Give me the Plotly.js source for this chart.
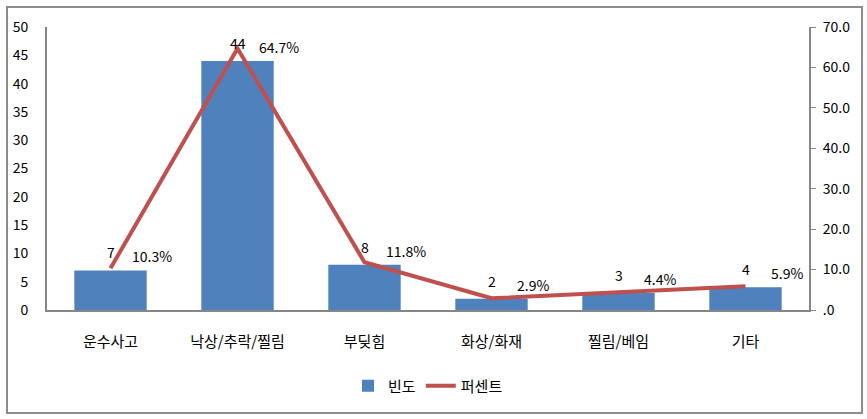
<!DOCTYPE html>
<html>
<head>
<meta charset="utf-8">
<script src="https://cdn.plot.ly/plotly-3.0.1.min.js"></script>
<style>
html,body{margin:0;padding:0;background:#fff;}
#wrap{position:relative;width:867px;height:419px;}
#chart{width:867px;height:419px;}
#frame{position:absolute;left:6px;top:6px;width:853px;height:404px;border:2px solid #8c8c8c;pointer-events:none;}
</style>
</head>
<body>
<div id="wrap"><div id="chart"></div><div id="frame"></div></div>
<script>
const categories = ['운수사고', '낙상/추락/찔림', '부딪힘', '화상/화재', '찔림/베임', '기타'];
const counts = [7, 44, 8, 2, 3, 4];
const percents = [10.3, 64.7, 11.8, 2.9, 4.4, 5.9];
const leftTicks = [0, 5, 10, 15, 20, 25, 30, 35, 40, 45, 50];
const rightTickVals = [0, 10, 20, 30, 40, 50, 60, 70];
const rightTickText = ['.0', '10.0', '20.0', '30.0', '40.0', '50.0', '60.0', '70.0'];
const seriesNames = ['빈도', '퍼센트'];

const font = "'Noto Sans CJK KR', 'Noto Sans', sans-serif";

const traces = [
  {
    type: 'bar', x: categories, y: counts, name: seriesNames[0],
    marker: {color: '#4F81BD'}, width: 0.57, yaxis: 'y'
  },
  {
    type: 'scatter', mode: 'lines', x: categories, y: percents, name: seriesNames[1],
    line: {color: '#C0504D', width: 4}, yaxis: 'y2'
  }
];

const annotations = [];
categories.forEach((c, i) => {
  annotations.push({
    x: c, y: counts[i], xref: 'x', yref: 'y', text: String(counts[i]),
    showarrow: false, yshift: 18, font: {family: font, size: 14, color: '#000'}
  });
  annotations.push({
    x: c, y: counts[i], xref: 'x', yref: 'y', text: percents[i].toFixed(1) + '%',
    showarrow: false, xshift: 41, yshift: 14, font: {family: font, size: 14, color: '#000'}
  });
});

const layout = {
  width: 867, height: 419,
  margin: {l: 47, r: 58, t: 27, b: 109},
  paper_bgcolor: '#fff', plot_bgcolor: '#fff',
  showlegend: true,
  legend: {orientation: 'h', x: 0.5, xanchor: 'center', y: -0.21, yanchor: 'top',
           font: {family: font, size: 15, color: '#000'}},
  bargap: 0.43,
  xaxis: {
    type: 'category', showline: true, linecolor: '#868686', linewidth: 2,
    ticks: '', showgrid: false, tickfont: {family: font, size: 15, color: '#000'},
    ticklabelstandoff: 17
  },
  yaxis: {
    range: [0, 50], tickvals: leftTicks, showline: true, linecolor: '#868686', linewidth: 2,
    showgrid: false, zeroline: false, ticks: '', ticklabelstandoff: 14,
    tickfont: {family: font, size: 14, color: '#000'}
  },
  yaxis2: {
    overlaying: 'y', side: 'right', range: [0, 70], tickvals: rightTickVals, ticktext: rightTickText,
    showline: true, linecolor: '#868686', linewidth: 2, showgrid: false, zeroline: false,
    ticks: 'outside', ticklen: 5, tickcolor: '#868686', tickwidth: 1, ticklabelstandoff: 4,
    tickfont: {family: font, size: 14, color: '#000'}
  },
  annotations: annotations
};

Plotly.newPlot('chart', traces, layout, {displayModeBar: false, staticPlot: true});
</script>
</body>
</html>
